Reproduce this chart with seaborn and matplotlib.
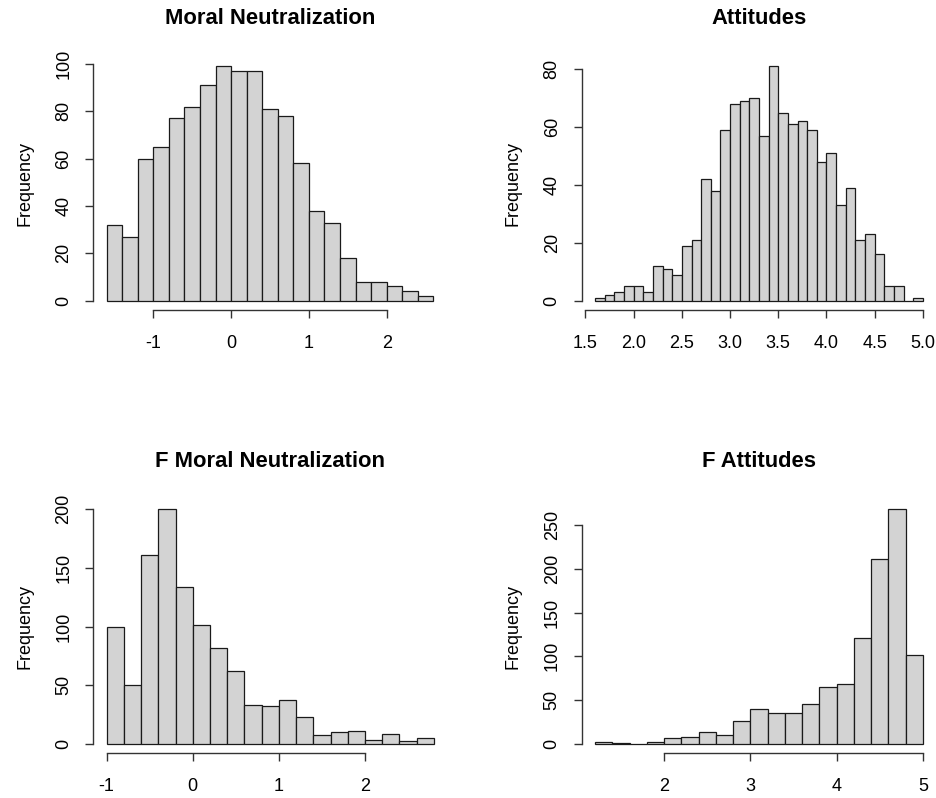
import numpy as np
import pandas as pd
import matplotlib
matplotlib.use("Agg")
import matplotlib.pyplot as plt
import seaborn as sns

# bar counts (R style hist, equal-width breaks)
mn_start, mn_width = -1.6, 0.2
mn_counts = [32, 27, 60, 65, 77, 82, 91, 99, 97, 97, 81, 78, 58, 38, 33, 18, 8, 8, 6, 4, 2]

att_start, att_width = 1.6, 0.1
att_counts = [1, 2, 3, 5, 5, 3, 12, 11, 9, 19, 21, 42, 38, 59, 68, 69, 70, 57, 81, 65,
              61, 62, 59, 48, 51, 33, 39, 21, 23, 16, 5, 5, 0, 1]

fmn_start, fmn_width = -1.0, 0.2
fmn_counts = [100, 50, 161, 200, 134, 101, 82, 62, 33, 32, 37, 23, 7, 10, 11, 3, 8, 2, 5]

fatt_start, fatt_width = 1.2, 0.2
fatt_counts = [2, 1, 0, 2, 6, 8, 13, 10, 26, 40, 35, 35, 45, 65, 68, 121, 211, 268, 101]

titles = ["Moral Neutralization", "Attitudes", "F Moral Neutralization", "F Attitudes"]
xticks = [[-1, 0, 1, 2], [1.5, 2.0, 2.5, 3.0, 3.5, 4.0, 4.5, 5.0], [-1, 0, 1, 2], [2, 3, 4, 5]]
xticklabels = [["-1", "0", "1", "2"],
               ["1.5", "2.0", "2.5", "3.0", "3.5", "4.0", "4.5", "5.0"],
               ["-1", "0", "1", "2"], ["2", "3", "4", "5"]]
yticks = [[0, 20, 40, 60, 80, 100], [0, 20, 40, 60, 80],
          [0, 50, 100, 150, 200], [0, 50, 100, 150, 200, 250]]

sns.set_style("white")
plt.rcParams["font.family"] = ["Liberation Sans", "DejaVu Sans"]
plt.rcParams["text.color"] = "black"
plt.rcParams["axes.labelcolor"] = "black"
plt.rcParams["xtick.color"] = "black"
plt.rcParams["ytick.color"] = "black"

W, H = 937, 798
fig = plt.figure(figsize=(W / 100, H / 100), dpi=100)

# plot regions in pixels: left, top, right, bottom
boxes = [(93.5, 57, 446.5, 310), (582, 57, 936, 310),
         (93.5, 500, 447, 753), (582, 500, 936, 753)]

panels = [(mn_start, mn_width, mn_counts), (att_start, att_width, att_counts),
          (fmn_start, fmn_width, fmn_counts), (fatt_start, fatt_width, fatt_counts)]

for i, (start, width, counts) in enumerate(panels):
    l, t, r, b = boxes[i]
    ax = fig.add_axes([l / W, 1 - b / H, (r - l) / W, (b - t) / H])
    n = len(counts)
    edges = [round(start + width * k, 6) for k in range(n + 1)]
    df = pd.DataFrame({"mid": [e + width / 2 for e in edges[:-1]], "count": counts})
    sns.histplot(data=df, x="mid", weights="count", bins=edges, ax=ax,
                 color="#d3d3d3", alpha=1, edgecolor="#1a1a1a", linewidth=0.9)

    # R default axis extents: 4% padding
    x0, x1 = edges[0], edges[-1]
    ymax = max(counts)
    ax.set_xlim(x0 - 0.04 * (x1 - x0), x1 + 0.04 * (x1 - x0))
    ax.set_ylim(-0.04 * ymax, ymax * 1.04)

    ax.set_xticks(xticks[i])
    ax.set_xticklabels(xticklabels[i])
    ax.set_yticks(yticks[i])
    ax.set_yticklabels([str(v) for v in yticks[i]], rotation=90, va="center")

    for s in ["top", "right"]:
        ax.spines[s].set_visible(False)
    ax.spines["bottom"].set_bounds(xticks[i][0], xticks[i][-1])
    ax.spines["left"].set_bounds(yticks[i][0], yticks[i][-1])
    for s in ["bottom", "left"]:
        ax.spines[s].set_color("#333333")
        ax.spines[s].set_linewidth(1.0)

    ax.tick_params(axis="x", length=5.8, width=1.0, color="#333333", pad=12,
                   labelsize=13, bottom=True, labelcolor="black")
    ax.tick_params(axis="y", length=5.8, width=1.0, color="#333333", pad=9.5,
                   labelsize=13, left=True, labelcolor="black")

    ax.set_xlabel("")
    ax.set_ylabel("Frequency", fontsize=13, color="black")
    ax.yaxis.set_label_coords(-0.171, 0.5)
    ax.yaxis.label.set_va("bottom")
    ax.set_title(titles[i], fontsize=15.8, fontweight="bold", pad=23.8, color="black")
    ax.grid(False)

fig.savefig("out.png", dpi=100)
plt.close(fig)
